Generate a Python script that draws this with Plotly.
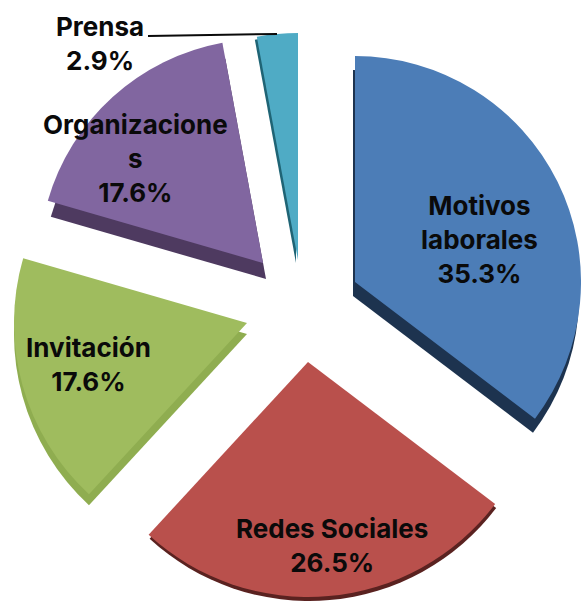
import plotly.graph_objects as go

categories = ["Motivos laborales", "Redes Sociales", "Invitación", "Organizaciones", "Prensa"]
values = [35.3, 26.5, 17.6, 17.6, 2.9]
label_text = ["Motivos<br>laborales<br>35.3%", "Redes Sociales<br>26.5%", "Invitación<br>17.6%",
              "Organizacione<br>s<br>17.6%", "Prensa<br>2.9%"]

top_colors = ["#4C7DB7", "#B9504C", "#9FBC5E", "#8166A0", "#4FABC5"]
side_colors = ["#1D334F", "#5A2220", "#8FAD50", "#4E3A60", "#1F6475"]

# exploded slice placement in page pixels (apex of each slice, radius, extrusion)
apex_x = [355, 308, 247, 263, 298]
apex_y = [282, 362, 323, 263, 260]
radius = [226, 235, 233, 224, 227]
depth_dx = [-2, 1, 0, 3, -2]
depth_dy = [14, 4, 11, 16, 3]
label_x = [479, 332, 88, 135, 100]
label_y = [239, 545, 364, 158, 43]

W, H = 581, 601
CLEAR = "rgba(0,0,0,0)"


def slice_trace(i, color, dx, dy, hover):
    cx, cy, r = apex_x[i] + dx, apex_y[i] + dy, radius[i]
    colors = [color if j == i else CLEAR for j in range(len(values))]
    return go.Pie(
        labels=categories, values=values, sort=False, direction="clockwise", rotation=0,
        textinfo="none", hoverinfo=hover, showlegend=False,
        marker=dict(colors=colors, line=dict(width=0)),
        domain=dict(x=[max(0, (cx - r) / W), min(1, (cx + r) / W)],
                    y=[max(0, 1 - (cy + r) / H), min(1, 1 - (cy - r) / H)]),
    )


traces = [slice_trace(i, side_colors[i], depth_dx[i], depth_dy[i], "skip") for i in range(len(values))]
traces += [slice_trace(i, top_colors[i], 0, 0, "skip") for i in range(len(values))]
fig = go.Figure(traces)

font = dict(family="Inter, sans-serif", size=26, color="#0A0A0A", weight="bold")
annotations = [dict(x=x / W, y=1 - y / H, xref="paper", yref="paper", text=t, showarrow=False,
                    font=font, align="center", xanchor="center", yanchor="middle")
               for t, x, y in zip(label_text, label_x, label_y)]
fig.update_layout(width=W, height=H, margin=dict(l=0, r=0, t=0, b=0), paper_bgcolor="white",
                  annotations=annotations,
                  shapes=[dict(type="line", xref="paper", yref="paper", x0=148 / W, x1=277 / W,
                               y0=1 - 36 / H, y1=1 - 34 / H, line=dict(color="#0A0A0A", width=2))])
fig.write_html("out.html", post_script="document.body.style.margin='0';",
               config=dict(displayModeBar=False))
